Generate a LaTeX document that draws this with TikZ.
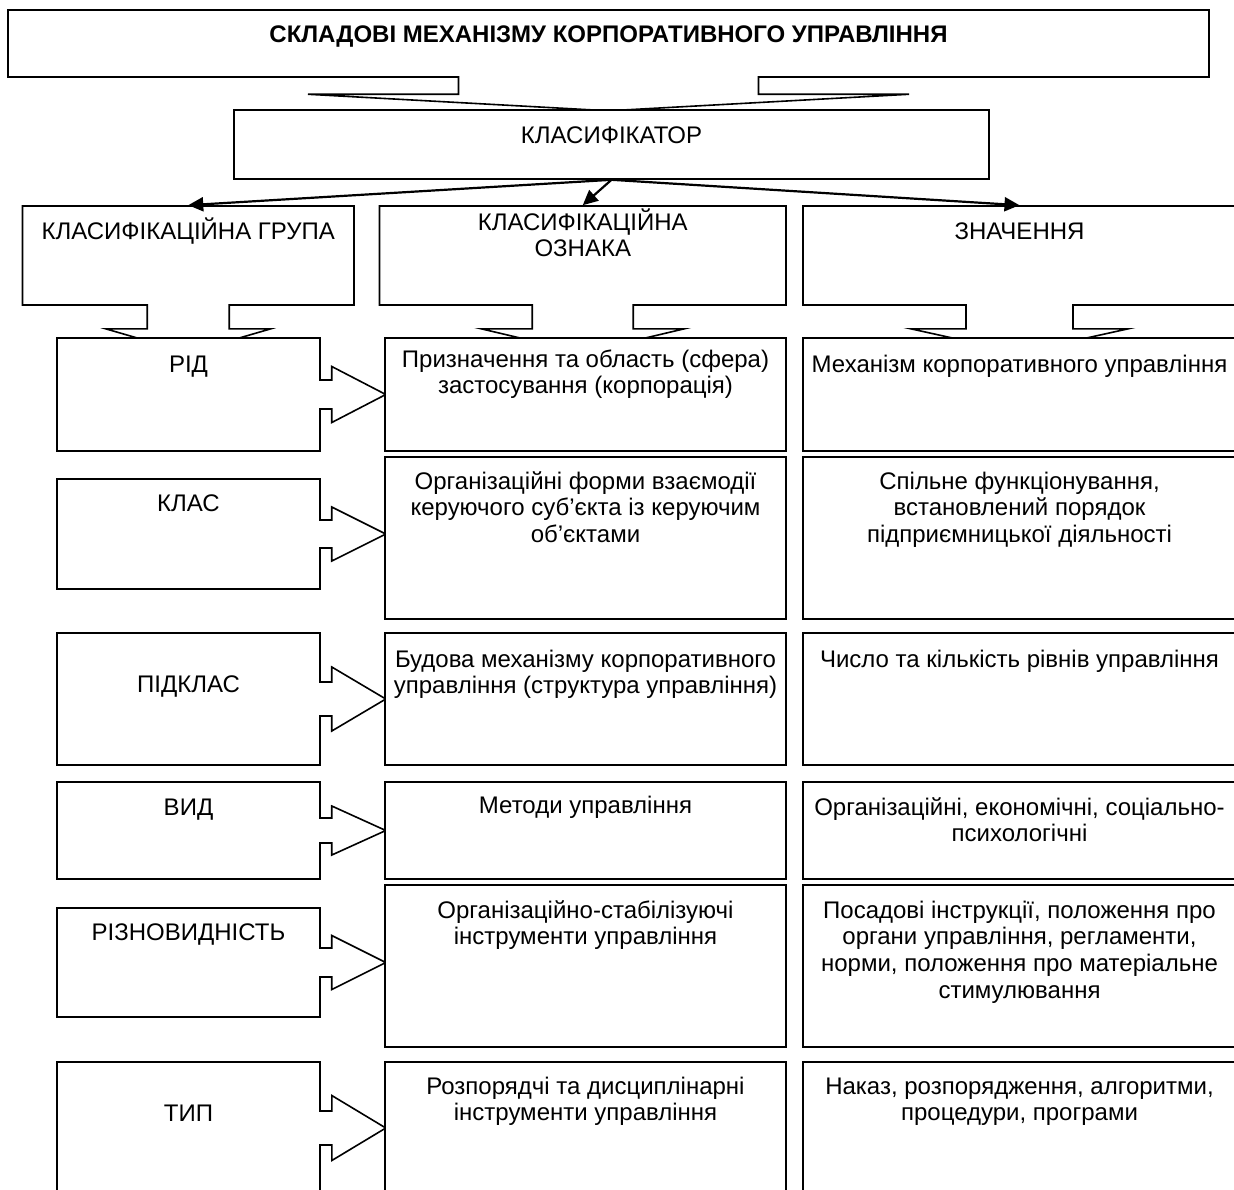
\documentclass[tikz,border=0pt]{standalone}
\usepackage{fontspec}
\setmainfont{Liberation Sans}
\usetikzlibrary{shapes.arrows,arrows.meta}
\tikzset{
	box/.style={draw, fill=white, line width=1.6pt, inner sep=0pt},
	downcall/.style n args={3}{box, shape=arrow box, arrow box arrows={south:47pt}, arrow box shaft width=#1, arrow box head extend=#2, arrow box tip angle=#3, minimum height=99pt},
	sidecall/.style n args={4}{box, shape=arrow box, arrow box arrows={east:65pt}, arrow box shaft width=#1, arrow box head extend=#2, arrow box tip angle=#3, minimum width=263pt, minimum height=#4},
	sigbox/.style={box, minimum width=401pt, minimum height=#1},
	valbox/.style={box, minimum width=433pt, minimum height=#1},
	txt/.style={align=center, inner sep=0pt, anchor=base, font=\fontsize{24}{26.7}\selectfont},
	link/.style={line width=2.2pt, -{Triangle[length=15pt, width=14pt]}}
}
\begin{document}
\begin{tikzpicture}[x=1pt, y=-1pt]
	\useasboundingbox (0, 0) rectangle (1234, 1189);
	\node[box, shape=arrow box, arrow box arrows={south:33pt}, arrow box shaft width=300pt, arrow box head extend=150.5pt, arrow box tip angle=173.7, minimum width=1201pt, minimum height=67pt] (title) at (608.5, 43.5) {};
	\node[box, minimum width=755pt, minimum height=69pt] (klass) at (611.5, 144.5) {};
	\node[downcall={82pt}{41.25pt}{147.6}, minimum width=331.5pt] (grp) at (188.25, 255.5) {};
	\node[downcall={101pt}{51pt}{153.4}, minimum width=406.5pt] (sign) at (582.75, 255.5) {};
	\node[downcall={107pt}{55pt}{155.1}, minimum width=433pt] (val) at (1019.5, 255.5) {};
	\node[sidecall={29pt}{13.5pt}{54.8}{113pt}] (rid) at (188.5, 394.5) {};
	\node[sidecall={28pt}{13pt}{53.1}{110pt}] (klas) at (188.5, 534) {};
	\node[sidecall={34pt}{15pt}{61.3}{132pt}] (pidklas) at (188.5, 699) {};
	\node[sidecall={25pt}{12pt}{48.8}{97pt}] (vyd) at (188.5, 830.5) {};
	\node[sidecall={29pt}{12.5pt}{53.1}{109pt}] (rizn) at (188.5, 962.5) {};
	\node[sidecall={34pt}{15.5pt}{62.1}{132pt}] (typ) at (188.5, 1128) {};
	\node[sigbox=113pt] (s1) at (585.5, 394.5) {};
	\node[sigbox=162pt] (s2) at (585.5, 538) {};
	\node[sigbox=132pt] (s3) at (585.5, 699) {};
	\node[sigbox=97pt] (s4) at (585.5, 830.5) {};
	\node[sigbox=162pt] (s5) at (585.5, 966) {};
	\node[sigbox=132pt] (s6) at (585.5, 1128) {};
	\node[valbox=113pt] (v1) at (1019.5, 394.5) {};
	\node[valbox=162pt] (v2) at (1019.5, 538) {};
	\node[valbox=132pt] (v3) at (1019.5, 699) {};
	\node[valbox=97pt] (v4) at (1019.5, 830.5) {};
	\node[valbox=162pt] (v5) at (1019.5, 966) {};
	\node[valbox=132pt] (v6) at (1019.5, 1128) {};
	\draw[link] (klass.south) to (grp.north);
	\draw[link] (klass.south) to (sign.north);
	\draw[link] (klass.south) to (val.north);
	\node[txt, font=\fontsize{24}{26.7}\selectfont\bfseries] (t-title) at (608.5, 42) {СКЛАДОВІ МЕХАНІЗМУ КОРПОРАТИВНОГО УПРАВЛІННЯ};
	\node[txt] (t-klass) at (611.5, 143) {КЛАСИФІКАТОР};
	\node[txt] (t-grp) at (188.25, 239) {КЛАСИФІКАЦІЙНА ГРУПА};
	\node[txt] (t-sign) at (582.75, 256.7) {КЛАСИФІКАЦІЙНА\\ОЗНАКА};
	\node[txt] (t-val) at (1019.5, 239) {ЗНАЧЕННЯ};
	\node[txt] (t-rid) at (188.5, 372) {РІД};
	\node[txt] (t-klas) at (188.5, 511) {КЛАС};
	\node[txt] (t-pidklas) at (188.5, 692) {ПІДКЛАС};
	\node[txt] (t-vyd) at (188.5, 815) {ВИД};
	\node[txt] (t-rizn) at (188.5, 940) {РІЗНОВИДНІСТЬ};
	\node[txt] (t-typ) at (188.5, 1121) {ТИП};
	\node[txt] (t-s1) at (585.5, 393.7) {Призначення та область (сфера)\\застосування (корпорація)};
	\node[txt] (t-s2) at (585.5, 542.4) {Організаційні форми взаємодії\\керуючого суб’єкта із керуючим\\об’єктами};
	\node[txt] (t-s3) at (585.5, 693.7) {Будова механізму корпоративного\\управління (структура управління)};
	\node[txt] (t-s4) at (585.5, 813) {Методи управління};
	\node[txt] (t-s5) at (585.5, 944.7) {Організаційно-стабілізуючі\\інструменти управління};
	\node[txt] (t-s6) at (585.5, 1120.7) {Розпорядчі та дисциплінарні\\інструменти управління};
	\node[txt] (t-v1) at (1019.5, 372) {Механізм корпоративного управління};
	\node[txt] (t-v2) at (1019.5, 542.4) {Спільне функціонування,\\встановлений порядок\\підприємницької діяльності};
	\node[txt] (t-v3) at (1019.5, 667) {Число та кількість рівнів управління};
	\node[txt] (t-v4) at (1019.5, 841.7) {Організаційні, економічні, соціально-\\психологічні};
	\node[txt] (t-v5) at (1019.5, 998.1) {Посадові інструкції, положення про\\органи управління, регламенти,\\норми, положення про матеріальне\\стимулювання};
	\node[txt] (t-v6) at (1019.5, 1120.7) {Наказ, розпорядження, алгоритми,\\процедури, програми};
\end{tikzpicture}
\end{document}
